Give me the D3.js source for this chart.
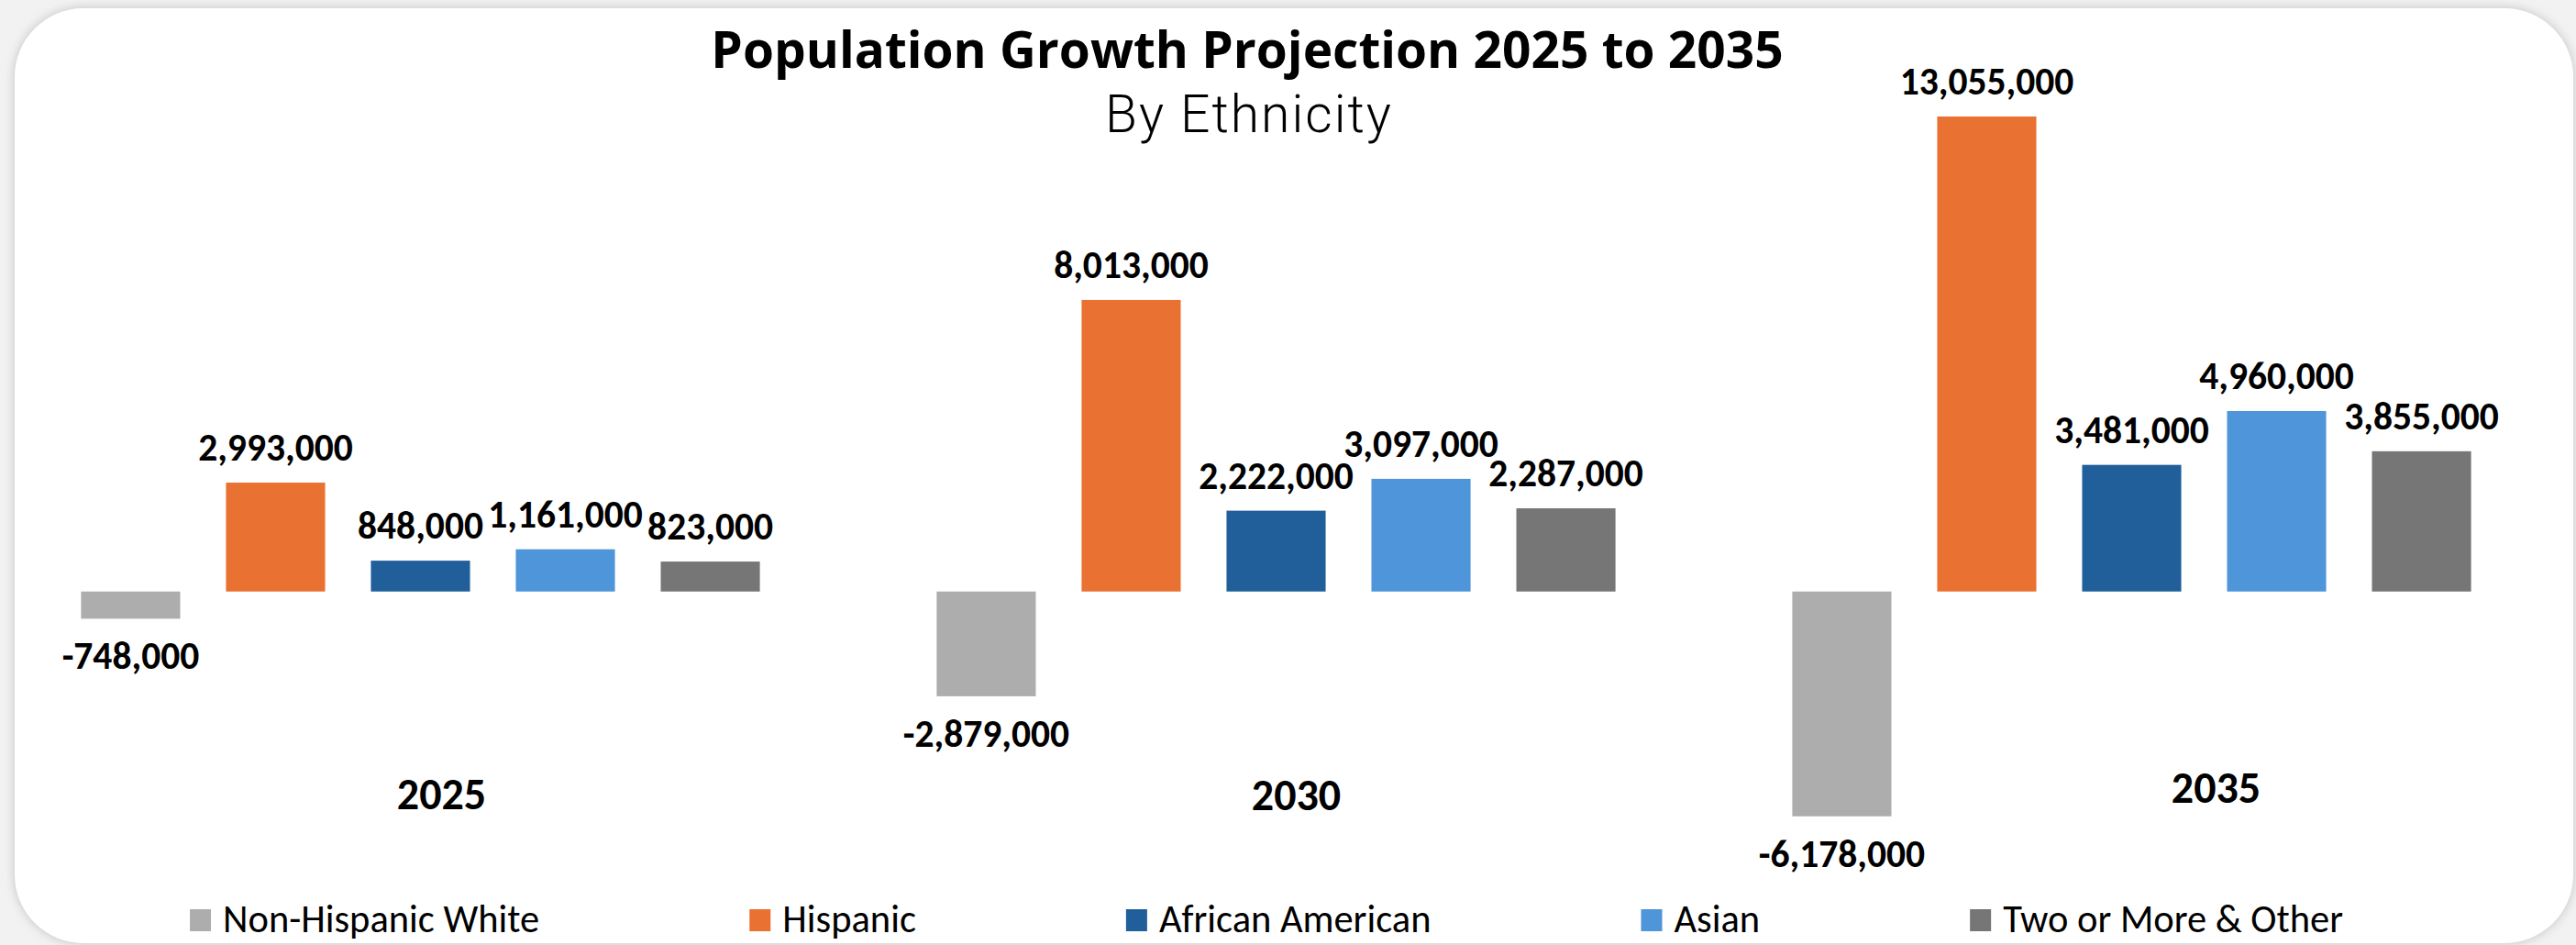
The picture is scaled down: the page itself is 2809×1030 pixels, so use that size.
<!DOCTYPE html>
<html>
<head>
<meta charset="utf-8">
<script src="https://cdn.jsdelivr.net/npm/d3@7"></script>
<style>
  html, body { margin: 0; padding: 0; background: #ffffff; }
  svg { display: block; }
</style>
</head>
<body>
<svg id="chart" width="2809" height="1030"></svg>
<script>
// Projected population change by ethnicity, relative to today
const years = ["2025", "2030", "2035"];
const ethnicities = ["Non-Hispanic White", "Hispanic", "African American", "Asian", "Two or More & Other"];

const nonHispanicWhite = [-748000, -2879000, -6178000];
const hispanic         = [2993000, 8013000, 13055000];
const africanAmerican  = [848000, 2222000, 3481000];
const asian            = [1161000, 3097000, 4960000];
const twoOrMoreOther   = [823000, 2287000, 3855000];

const seriesValues = [nonHispanicWhite, hispanic, africanAmerican, asian, twoOrMoreOther];

const W = 2809, H = 1030;
const svg = d3.select("#chart");

// Card background with a soft shadow
const defs = svg.append("defs");
const shadow = defs.append("filter").attr("id", "cardShadow")
  .attr("x", "-5%").attr("y", "-10%").attr("width", "110%").attr("height", "120%");
shadow.append("feDropShadow")
  .attr("dx", 0).attr("dy", 0).attr("stdDeviation", 6)
  .attr("flood-color", "#9a9a9a").attr("flood-opacity", 0.55);

svg.append("rect").attr("width", W).attr("height", H).attr("fill", "#f2f2f2");
svg.append("rect")
  .attr("x", 16).attr("y", 9).attr("width", 2790).attr("height", 1019)
  .attr("rx", 75).attr("ry", 75)
  .attr("fill", "#ffffff")
  .attr("filter", "url(#cardShadow)");

const labelFont = "Carlito, Lato, 'Noto Sans', sans-serif";

// Titles
svg.append("text")
  .attr("x", 1360).attr("y", 74)
  .attr("text-anchor", "middle")
  .attr("font-family", "'Open Sans', Lato, sans-serif")
  .attr("font-weight", 700).attr("font-size", 55)
  .attr("fill", "#000")
  .text("Population Growth Projection 2025 to 2035");

svg.append("text")
  .attr("x", 1362).attr("y", 144)
  .attr("text-anchor", "middle")
  .attr("font-family", "Roboto, 'Open Sans', sans-serif")
  .attr("font-weight", 300).attr("font-size", 57)
  .attr("letter-spacing", 2)
  .attr("fill", "#000")
  .text("By Ethnicity");

// Scales
const x0 = d3.scaleBand().domain(years).range([-8, 2791]);
const x1 = d3.scaleBand().domain(ethnicities)
  .range([0, x0.bandwidth()])
  .paddingInner(0.316).paddingOuter(0.61);
const y = d3.scaleLinear().domain([-8000000, 14000000]).range([962, 89.5]);
const color = d3.scaleOrdinal().domain(ethnicities)
  .range(["#adadad", "#e97132", "#215f9a", "#4e95d9", "#767676"]);

const fmt = d3.formatLocale({ decimal: ".", thousands: ",", grouping: [3], currency: ["$", ""], minus: "-" }).format(",");

const rows = years.map((yr, i) => ({
  year: yr,
  items: ethnicities.map((e, s) => ({ key: e, value: seriesValues[s][i] }))
}));

const groups = svg.append("g").selectAll("g.year")
  .data(rows).join("g")
  .attr("class", "year")
  .attr("transform", d => `translate(${x0(d.year)},0)`);

groups.selectAll("rect")
  .data(d => d.items).join("rect")
  .attr("x", d => x1(d.key))
  .attr("width", x1.bandwidth())
  .attr("y", d => y(Math.max(0, d.value)))
  .attr("height", d => Math.abs(y(d.value) - y(0)))
  .attr("fill", d => color(d.key));

groups.selectAll("text.value")
  .data(d => d.items).join("text")
  .attr("class", "value")
  .attr("x", d => x1(d.key) + x1.bandwidth() / 2)
  .attr("y", d => d.value >= 0 ? y(d.value) - 24 : y(d.value) + 55)
  .attr("text-anchor", "middle")
  .attr("font-family", labelFont)
  .attr("font-weight", 700).attr("font-size", 41.5)
  .attr("fill", "#000")
  .text(d => fmt(d.value));

// Year labels under each cluster (hand-nudged placement)
const yearNudge = { "2025": [23, 882], "2030": [22, 883], "2035": [92, 875] };
svg.append("g").selectAll("text")
  .data(years).join("text")
  .attr("x", d => x0(d) + x0.bandwidth() / 2 + yearNudge[d][0])
  .attr("y", d => yearNudge[d][1])
  .attr("text-anchor", "middle")
  .attr("font-family", labelFont)
  .attr("font-weight", 700).attr("font-size", 48)
  .attr("fill", "#000")
  .text(d => d);

// Legend, centred along the bottom
const legend = svg.append("g");
const items = legend.selectAll("g").data(ethnicities).join("g");
items.append("rect")
  .attr("width", 23).attr("height", 24).attr("y", 991)
  .attr("fill", d => color(d));
items.append("text")
  .attr("x", 36).attr("y", 1016)
  .attr("font-family", labelFont)
  .attr("font-size", 42.5)
  .attr("fill", "#000")
  .text(d => d);

let cursor = 0;
const offsets = [];
items.each(function () {
  const w = d3.select(this).select("text").node().getComputedTextLength();
  offsets.push(cursor);
  cursor += 36 + w + 229;
});
const total = cursor - 229;
const start = 1381 - total / 2;
items.attr("transform", (d, i) => `translate(${start + offsets[i]},0)`);
</script>
</body>
</html>
